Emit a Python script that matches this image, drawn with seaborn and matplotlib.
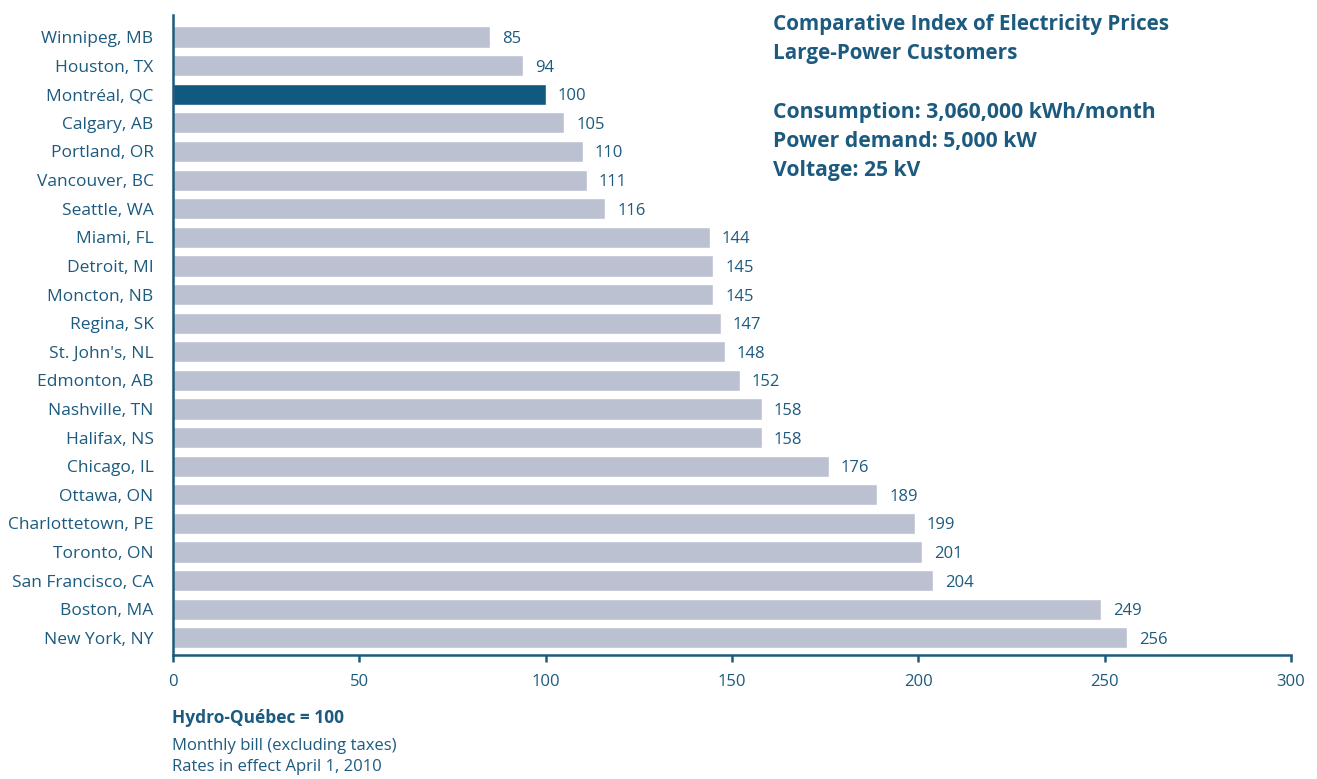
import matplotlib
matplotlib.use("Agg")
import matplotlib.pyplot as plt
import seaborn as sns

# data
cities = [
    "Winnipeg, MB", "Houston, TX", "Montréal, QC", "Calgary, AB", "Portland, OR",
    "Vancouver, BC", "Seattle, WA", "Miami, FL", "Detroit, MI", "Moncton, NB",
    "Regina, SK", "St. John's, NL", "Edmonton, AB", "Nashville, TN", "Halifax, NS",
    "Chicago, IL", "Ottawa, ON", "Charlottetown, PE", "Toronto, ON",
    "San Francisco, CA", "Boston, MA", "New York, NY",
]
index_values = [85, 94, 100, 105, 110, 111, 116, 144, 145, 145, 147, 148, 152,
                158, 158, 176, 189, 199, 201, 204, 249, 256]
highlight = "Montréal, QC"
x_ticks = [0, 50, 100, 150, 200, 250, 300]

TEXT = "#1C5A7F"
DARK = "#0F5A7E"
GREY = "#BCC1D2"

sns.set_style("white")
plt.rcParams["font.family"] = ["Open Sans", "DejaVu Sans"]

fig = plt.figure(figsize=(13.17, 7.79), dpi=100)
ax = fig.add_axes([0.1314, 0.1592, 0.8489, 0.8215])

palette = {c: (DARK if c == highlight else GREY) for c in cities}
sns.barplot(x=index_values, y=cities, hue=cities, palette=palette, legend=False,
            orient="h", width=0.74, saturation=1, ax=ax)

for i, v in enumerate(index_values):
    ax.text(v + 3.2, i, str(v), va="center_baseline", ha="left", fontsize=12,
            color=TEXT)

ax.set_xlim(0, 300)
ax.set_ylim(len(cities) - 0.4, -0.77)
ax.set_xticks(x_ticks)
ax.set_xlabel("")
ax.set_ylabel("")
ax.tick_params(axis="x", bottom=True, colors=TEXT, labelsize=12, length=5,
               width=1.8, direction="out", pad=9)
ax.tick_params(axis="y", left=False, colors=TEXT, labelsize=12.5, length=0, pad=14)
for lbl in ax.get_xticklabels() + ax.get_yticklabels():
    lbl.set_color(TEXT)

sns.despine(ax=ax, top=True, right=True)
for side in ["left", "bottom"]:
    ax.spines[side].set_color(TEXT)
    ax.spines[side].set_linewidth(1.8)

# heading block
fig.text(773 / 1317, 1 - 14 / 779, "Comparative Index of Electricity Prices\nLarge-Power Customers",
         ha="left", va="top", fontsize=14.9, fontweight="bold", color=TEXT, linespacing=1.5)
fig.text(773 / 1317, 1 - 102 / 779,
         "Consumption: 3,060,000 kWh/month\nPower demand: 5,000 kW\nVoltage: 25 kV",
         ha="left", va="top", fontsize=15.2, fontweight="bold", color=TEXT, linespacing=1.5)

# footnotes
fig.text(172 / 1317, 1 - 718 / 779, "Hydro-Québec = 100", ha="left", va="center",
         fontsize=12.5, fontweight="bold", color=TEXT)
fig.text(172 / 1317, 1 - 746 / 779, "Monthly bill (excluding taxes)", ha="left",
         va="center", fontsize=12, color=TEXT)
fig.text(172 / 1317, 1 - 767 / 779, "Rates in effect April 1, 2010", ha="left",
         va="center", fontsize=12, color=TEXT)

fig.savefig("out.png", dpi=100)
plt.close(fig)
